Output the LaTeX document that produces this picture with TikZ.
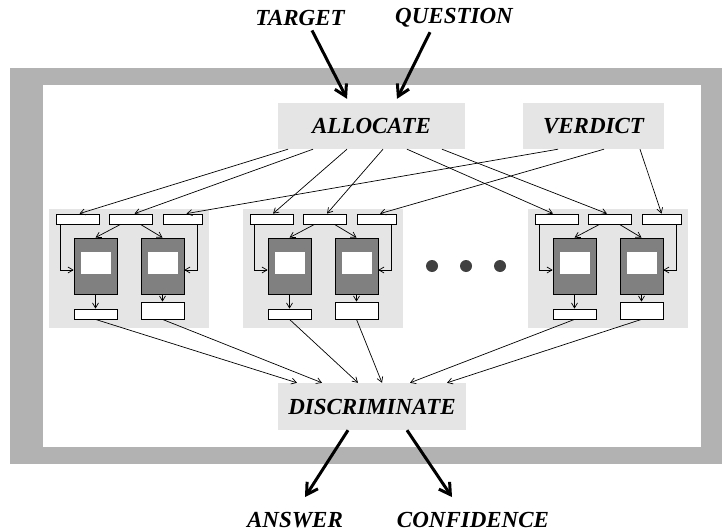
\documentclass[tikz,border=0pt]{standalone}
\usepackage{fontspec}
\setmainfont{Liberation Serif}
\usetikzlibrary{positioning, arrows.meta}

\begin{document}
\begin{tikzpicture}[
  x=1pt, y=-1pt,
  stage/.style={rectangle, fill=black!10, minimum height=46pt, inner sep=0pt, text centered, font=\fontsize{23}{23}\selectfont\bfseries\itshape},
  word/.style={inner sep=0pt, font=\fontsize{23}{23}\selectfont\bfseries\itshape},
  slot/.style={rectangle, draw, fill=white, line width=0.8pt, minimum width=43pt, minimum height=10pt, inner sep=0pt},
  unit/.style={rectangle, draw, fill=black!50, line width=0.8pt, minimum width=43pt, minimum height=56pt, inner sep=0pt},
  screen/.style={rectangle, fill=white, minimum width=30pt, minimum height=22pt, inner sep=0pt},
  dot/.style={circle, fill=black!75, minimum size=12pt, inner sep=0pt},
  arrow/.style={-{Straight Barb[length=5pt, width=6pt]}, line width=0.7pt},
  bigarrow/.style={-{Straight Barb[length=11pt, width=13pt]}, line width=3pt}
]
\useasboundingbox (0,0) rectangle (722,532);

%% Outer frame
\fill[black!30] (10,68) rectangle (722,464);
\fill[white] (43,85) rectangle (701,447);

%% Stages
\node[stage, minimum width=187pt] (allocate) at (371.5,126) {ALLOCATE};
\node[stage, minimum width=141pt] (verdict) at (593.5,126) {VERDICT};
\node[stage, minimum width=188pt, minimum height=47pt] (discriminate) at (372,406.5) {DISCRIMINATE};

%% Inputs and outputs
\node[word] (target) at (300,17.5) {TARGET};
\node[word] (question) at (454,17.5) {QUESTION};
\node[word] (answer) at (295,520) {ANSWER};
\node[word] (confidence) at (473,520) {CONFIDENCE};

%% Processing groups
\foreach \g/\X in {1/49, 2/243, 3/528} {
  \fill[black!10] (\X,209) rectangle (\X+160,328);
  \node[slot] (a\g) at (\X+28.5,219) {};
  \node[slot] (b\g) at (\X+81.5,219) {};
  \node[slot, minimum width=39pt] (c\g) at (\X+133.5,219) {};
  \node[unit] (p\g) at (\X+46.5,266) {};
  \node[unit] (q\g) at (\X+113.5,266) {};
  \node[screen] (ps\g) at ([yshift=3pt]p\g.center) {};
  \node[screen] (qs\g) at ([yshift=3pt]q\g.center) {};
  \node[slot] (lo\g) at (\X+46.5,314) {};
  \node[slot, minimum height=17pt] (ro\g) at (\X+113.5,310.5) {};
  \draw[arrow] ([xshift=5pt]a\g.south west) |- ([yshift=-4pt]p\g.west);
  \draw[arrow] ([xshift=-5pt]c\g.south east) |- ([yshift=-4pt]q\g.east);
  \draw[arrow] ([xshift=-10pt]b\g.south) -- (p\g.north);
  \draw[arrow] ([xshift=10pt]b\g.south) -- (q\g.north);
  \draw[arrow] (p\g) -- (lo\g);
  \draw[arrow] (q\g) -- (ro\g);
}

\node[dot] (dot1) at (432,266) {};
\node[dot] (dot2) at (466,266) {};
\node[dot] (dot3) at (500,266) {};

%% Connections
\draw[bigarrow] ([xshift=12pt, yshift=-5pt]target.south) -- ([xshift=-24.5pt, yshift=4pt]allocate.north);
\draw[bigarrow] ([xshift=-24pt, yshift=-5pt]question.south) -- ([xshift=25.5pt, yshift=4pt]allocate.north);

\draw[arrow] ([xshift=-83.5pt]allocate.south) -- ([xshift=2pt]a1.north);
\draw[arrow] ([xshift=-58.5pt]allocate.south) -- ([xshift=4pt]b1.north);
\draw[arrow] ([xshift=-24.5pt]allocate.south) -- ([xshift=1.5pt]a2.north);
\draw[arrow] ([xshift=11.5pt]allocate.south) -- ([xshift=2.5pt]b2.north);
\draw[arrow] ([xshift=35.5pt]allocate.south) -- ([xshift=-3.5pt]a3.north);
\draw[arrow] ([xshift=70.5pt]allocate.south) -- ([xshift=-2.5pt]b3.north);
\draw[arrow] ([xshift=-35.5pt]verdict.south) -- ([xshift=4pt]c1.north);
\draw[arrow] ([xshift=10.5pt]verdict.south) -- ([xshift=3.5pt]c2.north);
\draw[arrow] ([xshift=46.5pt]verdict.south) -- (c3.north);

\draw[arrow] (lo1.south) -- ([xshift=-75pt]discriminate.north);
\draw[arrow] (ro1.south) -- ([xshift=-50pt]discriminate.north);
\draw[arrow] (lo2.south) -- ([xshift=-14pt]discriminate.north);
\draw[arrow] (ro2.south) -- ([xshift=10pt]discriminate.north);
\draw[arrow] (lo3.south) -- ([xshift=38pt]discriminate.north);
\draw[arrow] (ro3.south) -- ([xshift=75pt]discriminate.north);

\draw[bigarrow] ([xshift=-24pt]discriminate.south) -- ([xshift=10pt, yshift=15pt]answer.north);
\draw[bigarrow] ([xshift=35pt]discriminate.south) -- ([xshift=-21pt, yshift=15pt]confidence.north);

\end{tikzpicture}
\end{document}
